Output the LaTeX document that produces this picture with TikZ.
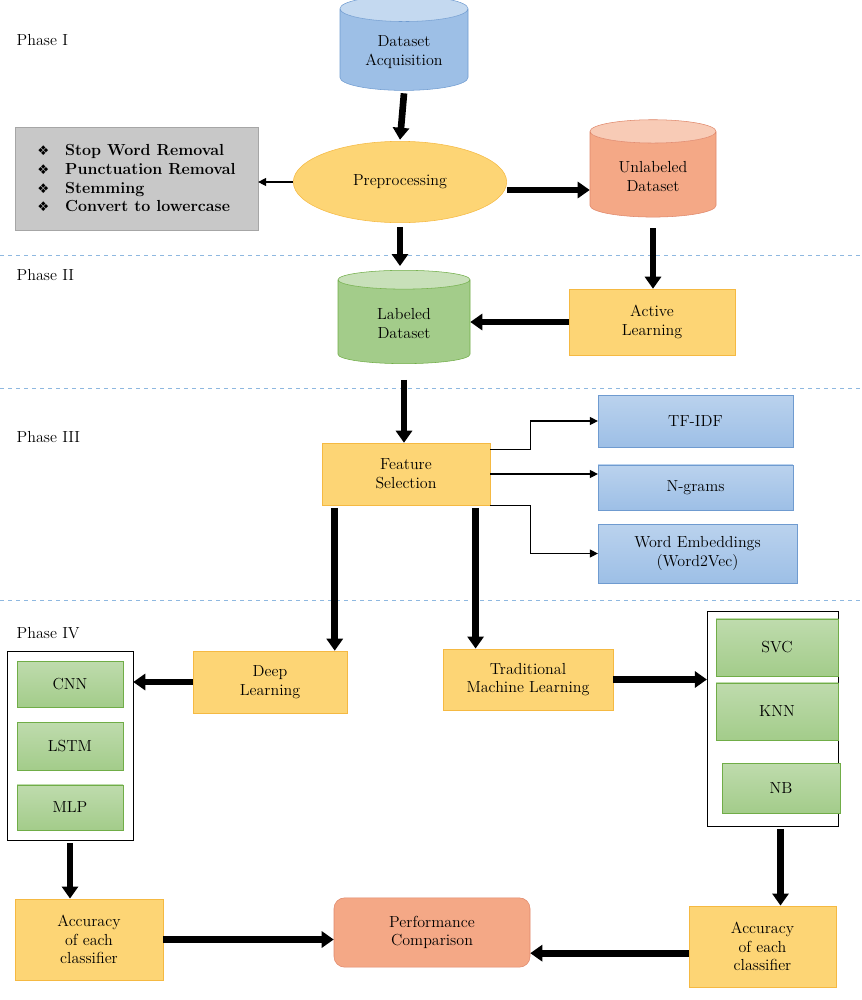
\documentclass[tikz,border=0pt]{standalone}
\usepackage{fontspec}
\newfontfamily\symfont{DejaVu Sans}
\usetikzlibrary{shapes,shapes.geometric,arrows,arrows.meta}

\definecolor{bluefill}{HTML}{9DBFE6}
\definecolor{blueline}{HTML}{6F9BD0}
\definecolor{orangefill}{HTML}{FDD575}
\definecolor{orangeline}{HTML}{F5B942}
\definecolor{greenfill}{HTML}{A3CC8A}
\definecolor{greenline}{HTML}{70AD47}
\definecolor{salmonfill}{HTML}{F4A886}
\definecolor{salmonline}{HTML}{E0876A}
\definecolor{greyfill}{HTML}{C8C8C8}
\definecolor{phaseline}{HTML}{8EB8E0}

\tikzset{
  box/.style={draw, align=center, font=\large, inner sep=2pt},
  orangebox/.style={box, draw=orangeline, fill=orangefill},
  bluebox/.style={box, draw=blueline, top color=bluefill!70, bottom color=bluefill},
  greenbox/.style={box, draw=greenline, top color=greenfill!70, bottom color=greenfill},
  db/.style={cylinder, shape border rotate=90, aspect=0.3, draw, align=center,
             font=\large, cylinder uses custom fill},
  big/.style={line width=5pt, -{Triangle[length=9pt, width=12pt]}},
  small/.style={thick, -{Triangle[length=6pt, width=6pt]}},
  phase/.style={anchor=west, font=\large},
  sep/.style={phaseline, dashed, thin}
}

\begin{document}
\begin{tikzpicture}[x=0.75pt, y=-0.75pt]
\useasboundingbox (0,0) rectangle (861,1000);

% phase labels and separators
  \node[phase] (p1) at (12,40) {Phase I};
  \node[phase] (p2) at (12,275) {Phase II};
  \node[phase] (p3) at (12,437) {Phase III};
  \node[phase] (p4) at (12,633) {Phase IV};
  \draw[sep] (0,255) -- (861,255);
  \draw[sep] (0,388) -- (861,388);
  \draw[sep] (0,600) -- (861,600);

% phase I
  \node[db, draw=blueline, cylinder body fill=bluefill, cylinder end fill=bluefill!60,
        minimum width=96pt, minimum height=71pt] (acq) at (404,52) {Dataset\\Acquisition};
  \node[ellipse, draw=orangeline, fill=orangefill, font=\large,
        minimum width=160pt, minimum height=61pt] (prep) at (400,182) {Preprocessing};
  \node[draw=gray!70, fill=greyfill, minimum width=182pt, minimum height=77pt,
        align=left, font=\large\bfseries] (steps) at (136.5,178.5)
        {{\symfont\normalsize ❖}\quad Stop Word Removal\\
         {\symfont\normalsize ❖}\quad Punctuation Removal\\
         {\symfont\normalsize ❖}\quad Stemming\\
         {\symfont\normalsize ❖}\quad Convert to lowercase};
  \node[db, draw=salmonline, cylinder body fill=salmonfill, cylinder end fill=salmonfill!60,
        minimum width=94.5pt, minimum height=73pt] (unl) at (653,176.5) {Unlabeled\\Dataset};

% phase II
  \node[db, draw=greenline, cylinder body fill=greenfill, cylinder end fill=greenfill!60,
        minimum width=99pt, minimum height=70pt] (lab) at (404,323.5) {Labeled\\Dataset};
  \node[orangebox, minimum width=124.5pt, minimum height=49.5pt] (act) at (652,322) {Active\\Learning};

% phase III
  \node[orangebox, minimum width=126pt, minimum height=46.5pt] (feat) at (406,474) {Feature\\Selection};
  \node[bluebox, minimum width=146pt, minimum height=39pt] (tfidf) at (695.5,421) {TF-IDF};
  \node[bluebox, minimum width=146pt, minimum height=34pt] (ngram) at (695.5,487.5) {N-grams};
  \node[bluebox, minimum width=149pt, minimum height=44pt] (emb) at (697.5,553.5) {Word Embeddings\\(Word2Vec)};

% phase IV
  \node[orangebox, minimum width=115.5pt, minimum height=46.5pt] (deep) at (270,682) {Deep\\Learning};
  \node[orangebox, minimum width=127.5pt, minimum height=46pt] (trad) at (528,679.5) {Traditional\\Machine Learning};
  \node[draw, thin, minimum width=94.5pt, minimum height=142pt] (lframe) at (70,745.5) {};
  \node[greenbox, minimum width=79.5pt, minimum height=34.5pt] (cnn) at (70,684) {CNN};
  \node[greenbox, minimum width=79.5pt, minimum height=36pt] (lstm) at (70,746) {LSTM};
  \node[greenbox, minimum width=79.5pt, minimum height=34pt] (mlp) at (70,807.5) {MLP};
  \node[draw, thin, minimum width=98pt, minimum height=161pt] (rframe) at (772.5,718.5) {};
  \node[greenbox, minimum width=91.5pt, minimum height=43pt] (svc) at (777,647.5) {SVC};
  \node[greenbox, minimum width=91.5pt, minimum height=43pt] (knn) at (777,711.5) {KNN};
  \node[greenbox, minimum width=88.5pt, minimum height=37.5pt] (nb) at (781,788) {NB};
  \node[orangebox, minimum width=111pt, minimum height=61pt] (accl) at (89,939.5) {Accuracy\\of each\\classifier};
  \node[box, rounded corners=8pt, draw=salmonline, fill=salmonfill,
        minimum width=147pt, minimum height=52pt] (perf) at (432,932.5) {Performance\\Comparison};
  \node[orangebox, minimum width=110pt, minimum height=61pt] (accr) at (762.5,946.5) {Accuracy\\of each\\classifier};

% connectors
  \draw[big] ([yshift=-2pt]acq.south) -- ([yshift=1pt]prep.north);
  \draw[small] (prep.west) -- (prep.west -| steps.east);
  \draw[big] ([yshift=-6pt]prep.east) -- ([yshift=-6pt]prep.east -| unl.west);
  \draw[big] ([yshift=-3pt]prep.south) -- ([yshift=3pt]prep.south |- lab.north);
  \draw[big] ([yshift=-8pt]unl.south) -- (unl.south |- act.north);
  \draw[big] (act.west) -- (act.west -| lab.east);
  \draw[big] ([yshift=-12pt]lab.south) -- (lab.south |- feat.north);
  \draw[small] ([yshift=-5pt]feat.north east) -- ++(40,0) |- (tfidf.west);
  \draw[small] (feat.east) -- (feat.east -| ngram.west);
  \draw[small] (feat.south east) -- ++(40,0) |- (emb.west);
  \coordinate (fdl) at ([xshift=9.75pt, yshift=-2pt]feat.south west);
  \coordinate (fml) at ([xshift=-11pt, yshift=-2pt]feat.south east);
  \draw[big] (fdl) -- (fdl |- deep.north);
  \draw[big] (fml) -- (fml |- trad.north);
  \draw[big] (deep.west) -- (deep.west -| lframe.east);
  \draw[big] (trad.east) -- (trad.east -| rframe.west);
  \draw[big] ([yshift=-2pt]lframe.south) -- (lframe.south |- accl.north);
  \draw[big] ([yshift=-2pt, xshift=6pt]rframe.south) -- ([xshift=6pt]rframe.south |- accr.north);
  \draw[big] (accl.east) -- (accl.east -| perf.west);
  \draw[big] ([yshift=-5pt]accr.west) -- ([yshift=-5pt]accr.west -| perf.east);

\end{tikzpicture}
\end{document}
